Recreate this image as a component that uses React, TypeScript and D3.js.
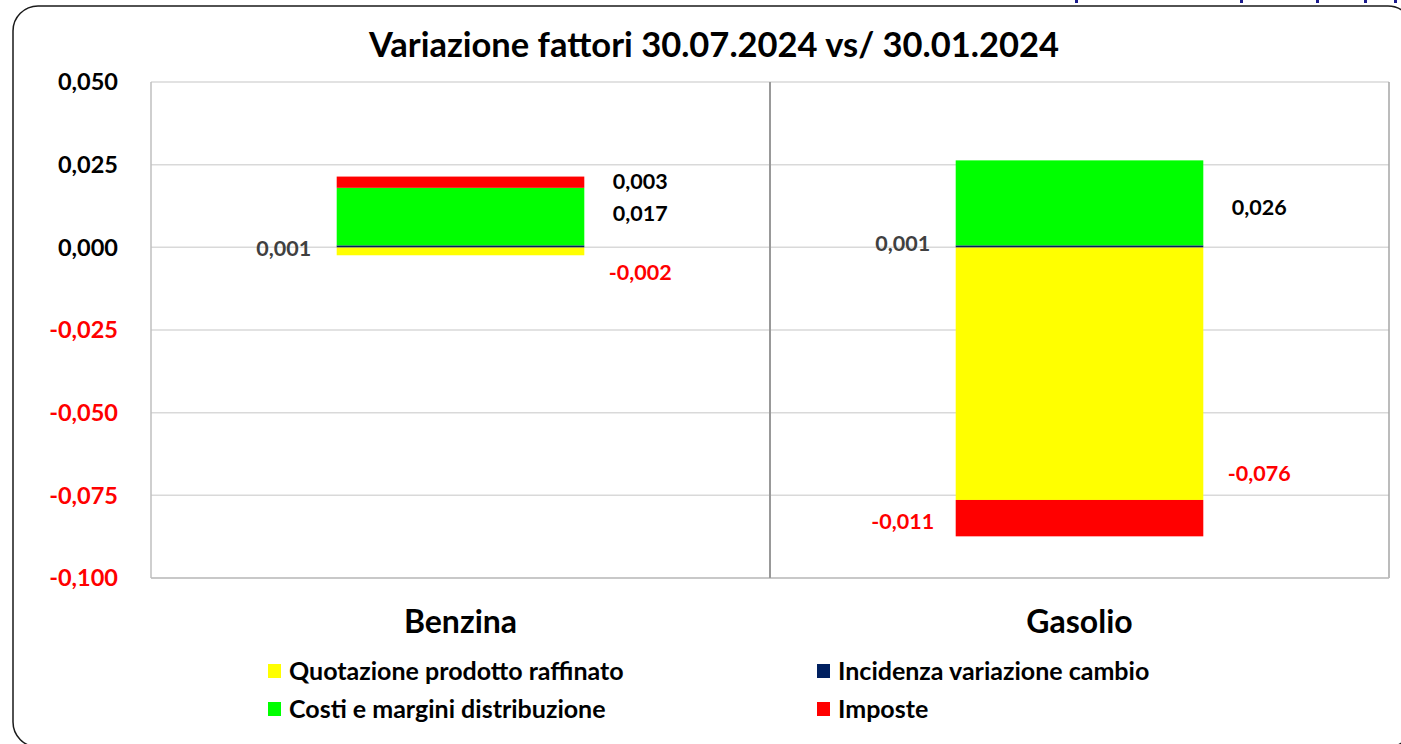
import React from "react";
import * as d3 from "d3";

const categories = ["Benzina", "Gasolio"];
const seriesNames = [
  "Quotazione prodotto raffinato",
  "Incidenza variazione cambio",
  "Costi e margini distribuzione",
  "Imposte",
];
const seriesColors = ["#FFFF00", "#002060", "#00FF00", "#FF0000"];
// values per series, [Benzina, Gasolio]
const quotazione = [-0.0024, -0.0764];
const cambio = [0.0006, 0.0006];
const costi = [0.0174, 0.0257];
const imposte = [0.0034, -0.0110];
const yTicks = [0.05, 0.025, 0, -0.025, -0.05, -0.075, -0.1];

// label placement (side of bar, pixel nudge from segment middle) per series per category
const labelPlacement = [
  [{ side: "right", dy: 21 }, { side: "right", dy: 100 }],
  [{ side: "left", dy: 2 }, { side: "left", dy: -3 }],
  [{ side: "right", dy: -3 }, { side: "right", dy: 4 }],
  [{ side: "right", dy: -1 }, { side: "left", dy: 3 }],
];

const W = 1401;
const H = 744;
const M = { left: 151, right: 1389, top: 82, bottom: 578 };
const FONT = "Lato, 'Liberation Sans', sans-serif";

const fmt = (v: number) => {
  const s = Math.abs(v).toFixed(3).replace(".", ",");
  return (v < 0 ? "-" : "") + s;
};

export default function App() {
  const y = d3.scaleLinear().domain([-0.1, 0.05]).range([M.bottom, M.top]);
  const x = d3
    .scaleBand<string>()
    .domain(categories)
    .range([M.left, M.right])
    .paddingInner(0.6)
    .paddingOuter(0.3);

  const seriesValues = [quotazione, cambio, costi, imposte];
  const rows = categories.map((c, ci) => {
    const r: any = { cat: c };
    seriesNames.forEach((s, si) => (r[s] = seriesValues[si][ci]));
    return r;
  });
  const stacked = d3
    .stack<any>()
    .keys(seriesNames)
    .offset(d3.stackOffsetDiverging)(rows);

  const step = x.step();
  const bw = x.bandwidth();

  return (
    <svg
      width={W}
      height={H}
      style={{ position: "fixed", left: 0, top: 0, background: "#fff" }}
      fontFamily={FONT}
    >
      <rect x={0} y={0} width={W} height={H} fill="#fff" />
      {/* cut off marks at top */}
      {[1075, 1240, 1316, 1364, 1394].map((px) => (
        <rect key={px} x={px} y={0} width={3} height={3} fill="#1a1a8c" />
      ))}
      {/* outer frame */}
      <rect
        x={13}
        y={6}
        width={1400}
        height={741}
        rx={25}
        ry={25}
        fill="none"
        stroke="#1a1a1a"
        strokeWidth={1.5}
      />
      {/* title */}
      <text
        x={714}
        y={57}
        textAnchor="middle"
        fontSize={34.5}
        fontWeight="bold"
        fill="#000"
      >
        Variazione fattori 30.07.2024 vs/ 30.01.2024
      </text>

      {/* gridlines */}
      {yTicks.map((t) => (
        <line
          key={t}
          x1={M.left}
          x2={M.right}
          y1={y(t)}
          y2={y(t)}
          stroke="#d9d9d9"
          strokeWidth={1.5}
        />
      ))}
      {/* plot borders */}
      <line x1={M.left} x2={M.left} y1={M.top} y2={M.bottom} stroke="#bfbfbf" strokeWidth={1.5} />
      <line x1={M.right} x2={M.right} y1={M.top} y2={M.bottom} stroke="#a6a6a6" strokeWidth={1.5} />
      <line x1={M.left} x2={M.right} y1={M.bottom} y2={M.bottom} stroke="#bfbfbf" strokeWidth={1.5} />
      {/* category dividers */}
      {categories.slice(1).map((c) => (
        <line
          key={c}
          x1={(x(c) as number) - step * 0.3}
          x2={(x(c) as number) - step * 0.3}
          y1={M.top}
          y2={M.bottom}
          stroke="#999"
          strokeWidth={2}
        />
      ))}

      {/* y tick labels */}
      {yTicks.map((t) => (
        <text
          key={t}
          x={118}
          y={y(t)}
          dy="0.36em"
          textAnchor="end"
          fontSize={23.5}
          fontWeight="bold"
          fill={t < 0 ? "#FF0000" : "#000"}
        >
          {fmt(t)}
        </text>
      ))}

      {/* bars */}
      {stacked.map((s, si) => (
        <g key={s.key} fill={seriesColors[si]}>
          {s.map((d, ci) => (
            <rect
              key={ci}
              x={x(categories[ci]) as number}
              width={bw}
              y={y(Math.max(d[0], d[1]))}
              height={Math.abs(y(d[0]) - y(d[1]))}
            />
          ))}
        </g>
      ))}

      {/* data labels */}
      {stacked.map((s, si) =>
        s.map((d, ci) => {
          const v = seriesValues[si][ci];
          const pl = labelPlacement[si][ci];
          const bx = x(categories[ci]) as number;
          const lx = pl.side === "right" ? bx + bw + 56 : bx - 53;
          const ly = (y(d[0]) + y(d[1])) / 2 + pl.dy;
          const color = v < 0 ? "#FF0000" : si === 1 ? "#404040" : "#000";
          return (
            <text
              key={si + "-" + ci}
              x={lx}
              y={ly}
              dy="0.36em"
              textAnchor="middle"
              fontSize={21.5}
              fontWeight="bold"
              fill={color}
            >
              {fmt(v)}
            </text>
          );
        })
      )}

      {/* category labels */}
      {categories.map((c) => (
        <text
          key={c}
          x={(x(c) as number) + bw / 2}
          y={633}
          textAnchor="middle"
          fontSize={32}
          fontWeight="bold"
          fill="#000"
        >
          {c}
        </text>
      ))}

      {/* legend */}
      {seriesNames.map((s, i) => {
        const col = i === 0 || i === 2 ? 0 : 1;
        const row = i < 2 ? 0 : 1;
        const lx = col === 0 ? 268 : 817;
        const ly = row === 0 ? 671 : 709;
        return (
          <g key={s}>
            <rect x={lx} y={ly - 7} width={13} height={14} fill={seriesColors[i]} />
            <text x={lx + 21} y={ly} dy="0.36em" fontSize={25} fontWeight="bold" fill="#000">
              {s}
            </text>
          </g>
        );
      })}
    </svg>
  );
}
